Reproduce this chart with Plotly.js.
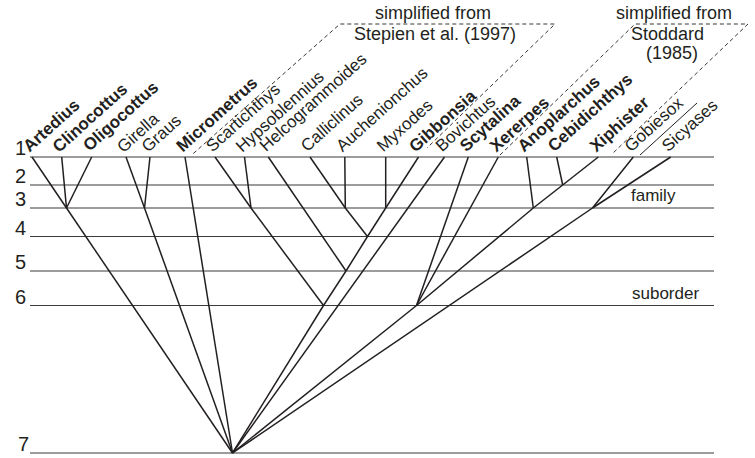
<!DOCTYPE html>
<html><head><meta charset="utf-8">
<script src="https://cdn.plot.ly/plotly-3.0.1.min.js"></script>
<style>html,body{margin:0;padding:0;background:#fff}#chart{width:755px;height:458px}</style>
</head><body><div id="chart"></div>
<script>
// ---- data ----
const levelNames = ["1","2","3","4","5","6","7"];
const levelDepth = [0, 28, 51, 79.5, 114, 148.5, 296];
const levelNoteText = ["family", "suborder"];
const levelNoteLevel = ["3", "6"];

const leafNames = ["Artedius","Clinocottus","Oligocottus","Girella","Graus","Micrometrus",
  "Scartichthys","Hypsoblennius","Helcogrammoides","Calliclinus","Auchenionchus","Myxodes",
  "Gibbonsia","Bovichtus","Scytalina","Xererpes","Anoplarchus","Cebidichthys","Xiphister",
  "Gobiesox","Sicyases"];
const leafPos = [32, 61.7, 91.7, 126, 150, 185, 215, 244.5, 268.3, 310, 344.8, 385.7,
  418.5, 444.5, 468.3, 498.3, 526.7, 556.7, 598.3, 633.3, 670.7];
const leafBold = [1,1,1,0,0,1,0,0,0,0,0,0,1,0,1,1,1,1,1,0,0];

const nodeNames = ["root","A3","G3","S3","Au3","My3","B4","B5","B6","C2","C3","X6","Go3"];
const nodeLevel = ["7","3","3","3","3","3","4","5","6","2","3","6","3"];
const nodePos = [232.5, 66.5, 144.5, 251, 345.3, 385.7, 367.5, 346, 323.5, 562.7, 533.3, 416.5, 592.5];

const edgeChild = ["Artedius","Clinocottus","Oligocottus","A3","Girella","Graus","G3","Micrometrus",
  "Scartichthys","Hypsoblennius","S3","Helcogrammoides","Calliclinus","Auchenionchus","Au3",
  "Myxodes","Gibbonsia","My3","B4","B5","B6","Bovichtus","Scytalina","Xererpes","Anoplarchus",
  "Cebidichthys","Xiphister","C2","C3","X6","Gobiesox","Sicyases","Go3"];
const edgeParent = ["A3","A3","A3","root","G3","G3","root","root",
  "S3","S3","B6","B5","Au3","Au3","B4",
  "My3","My3","B4","B5","B6","root","root","X6","X6","C3",
  "C2","C2","C3","X6","root","Go3","Go3","root"];

// source notes (dashed outlines)
const stepienText = ["simplified from", "Stepien et al. (1997)"];
const stepienBoxPos = [193.3, 340, 555, 427];
const stepienBoxDepth = [-3.5, -133, -133, -9];
const stoddardText = ["simplified from", "Stoddard", "(1985)"];
const stoddardBoxPos = [500, 635, 748, 612];
const stoddardBoxDepth = [-2, -133, -133, -3];
const gobiesoxRulePos = [640, 697];
const gobiesoxRuleDepth = [-2, -54];

// ---- build ----
const INK = "#231f20";
const FONT = "'Liberation Sans', Arial, Helvetica, sans-serif";
const lineStart = 30, lineEnd = 714;

function lvlDepth(name){ return levelDepth[levelNames.indexOf(name)]; }
function pointOf(name){
  let i = leafNames.indexOf(name);
  if (i >= 0) return [leafPos[i], levelDepth[0]];
  i = nodeNames.indexOf(name);
  return [nodePos[i], lvlDepth(nodeLevel[i])];
}

const traces = [];
// level lines
const lx = [], ly = [];
levelDepth.forEach(d => { lx.push(lineStart, lineEnd, null); ly.push(d, d, null); });
traces.push({type:"scatter", mode:"lines", x:lx, y:ly, hoverinfo:"skip",
  line:{color:"#3a3a3a", width:1.2}});
// tree edges
const ex = [], ey = [];
edgeChild.forEach((c, k) => {
  const a = pointOf(c), b = pointOf(edgeParent[k]);
  ex.push(a[0], b[0], null); ey.push(a[1], b[1], null);
});
traces.push({type:"scatter", mode:"lines", x:ex, y:ey, hoverinfo:"skip",
  line:{color:INK, width:1.5}});
// dashed boxes
traces.push({type:"scatter", mode:"lines", x:stepienBoxPos, y:stepienBoxDepth, hoverinfo:"skip",
  line:{color:INK, width:0.9, dash:"4px,3px"}});
traces.push({type:"scatter", mode:"lines", x:stoddardBoxPos, y:stoddardBoxDepth, hoverinfo:"skip",
  line:{color:INK, width:0.9, dash:"4px,3px"}});
traces.push({type:"scatter", mode:"lines", x:gobiesoxRulePos, y:gobiesoxRuleDepth, hoverinfo:"skip",
  line:{color:INK, width:1}});

// annotations
const ann = [];
const canvas = document.createElement("canvas");
const ctx = canvas.getContext("2d");
const LS = 17, ANG = 42 * Math.PI / 180;
const ux = Math.cos(ANG), uy = -Math.sin(ANG);
const vx = -Math.sin(ANG), vy = -Math.cos(ANG);
leafNames.forEach((n, i) => {
  ctx.font = (leafBold[i] ? "bold " : "") + LS + "px 'Liberation Sans'";
  const w = ctx.measureText(n).width;
  const px = leafPos[i] - 2, py = levelDepth[0] - 4;
  const cx = px + ux * w / 2 + vx * 0.35 * LS;
  const cy = py + uy * w / 2 + vy * 0.35 * LS;
  ann.push({x:cx, y:cy, xref:"x", yref:"y", showarrow:false, textangle:-42,
    xanchor:"center", yanchor:"middle",
    text: leafBold[i] ? "<b>" + n + "</b>" : n,
    font:{family:FONT, size:LS, color:INK}});
});
levelNames.forEach((n, i) => {
  ann.push({x: i === 6 ? lineStart + 1 : lineStart - 2, y: levelDepth[i], xref:"x", yref:"y",
    showarrow:false, xanchor:"right", yanchor:"bottom", yshift:-4, text:n,
    font:{family:FONT, size:20, color:INK}});
});
const notePos = [653, 665];
levelNoteText.forEach((t, k) => {
  ann.push({x:notePos[k], y:lvlDepth(levelNoteLevel[k]), xref:"x", yref:"y", showarrow:false,
    xanchor:"center", yanchor:"bottom", yshift:1, text:t,
    font:{family:FONT, size:17, color:INK}});
});
const srcPos1 = [432.5, 435], srcDepth1 = [-144, -123.5];
stepienText.forEach((t, k) => ann.push({x:srcPos1[k], y:srcDepth1[k], xref:"x", yref:"y",
  showarrow:false, xanchor:"center", yanchor:"middle", text:t, font:{family:FONT, size:18, color:INK}}));
const srcPos2 = [674, 667, 672], srcDepth2 = [-144, -123.5, -104];
stoddardText.forEach((t, k) => ann.push({x:srcPos2[k], y:srcDepth2[k], xref:"x", yref:"y",
  showarrow:false, xanchor:"center", yanchor:"middle", text:t, font:{family:FONT, size:18, color:INK}}));

const layout = {
  width:755, height:458, margin:{l:0, r:0, t:0, b:0},
  paper_bgcolor:"#fff", plot_bgcolor:"#fff", showlegend:false,
  xaxis:{range:[0,755], visible:false, fixedrange:true},
  yaxis:{range:[301,-157], visible:false, fixedrange:true},
  annotations: ann
};
Plotly.newPlot("chart", traces, layout, {displayModeBar:false, staticPlot:true});
</script></body></html>
